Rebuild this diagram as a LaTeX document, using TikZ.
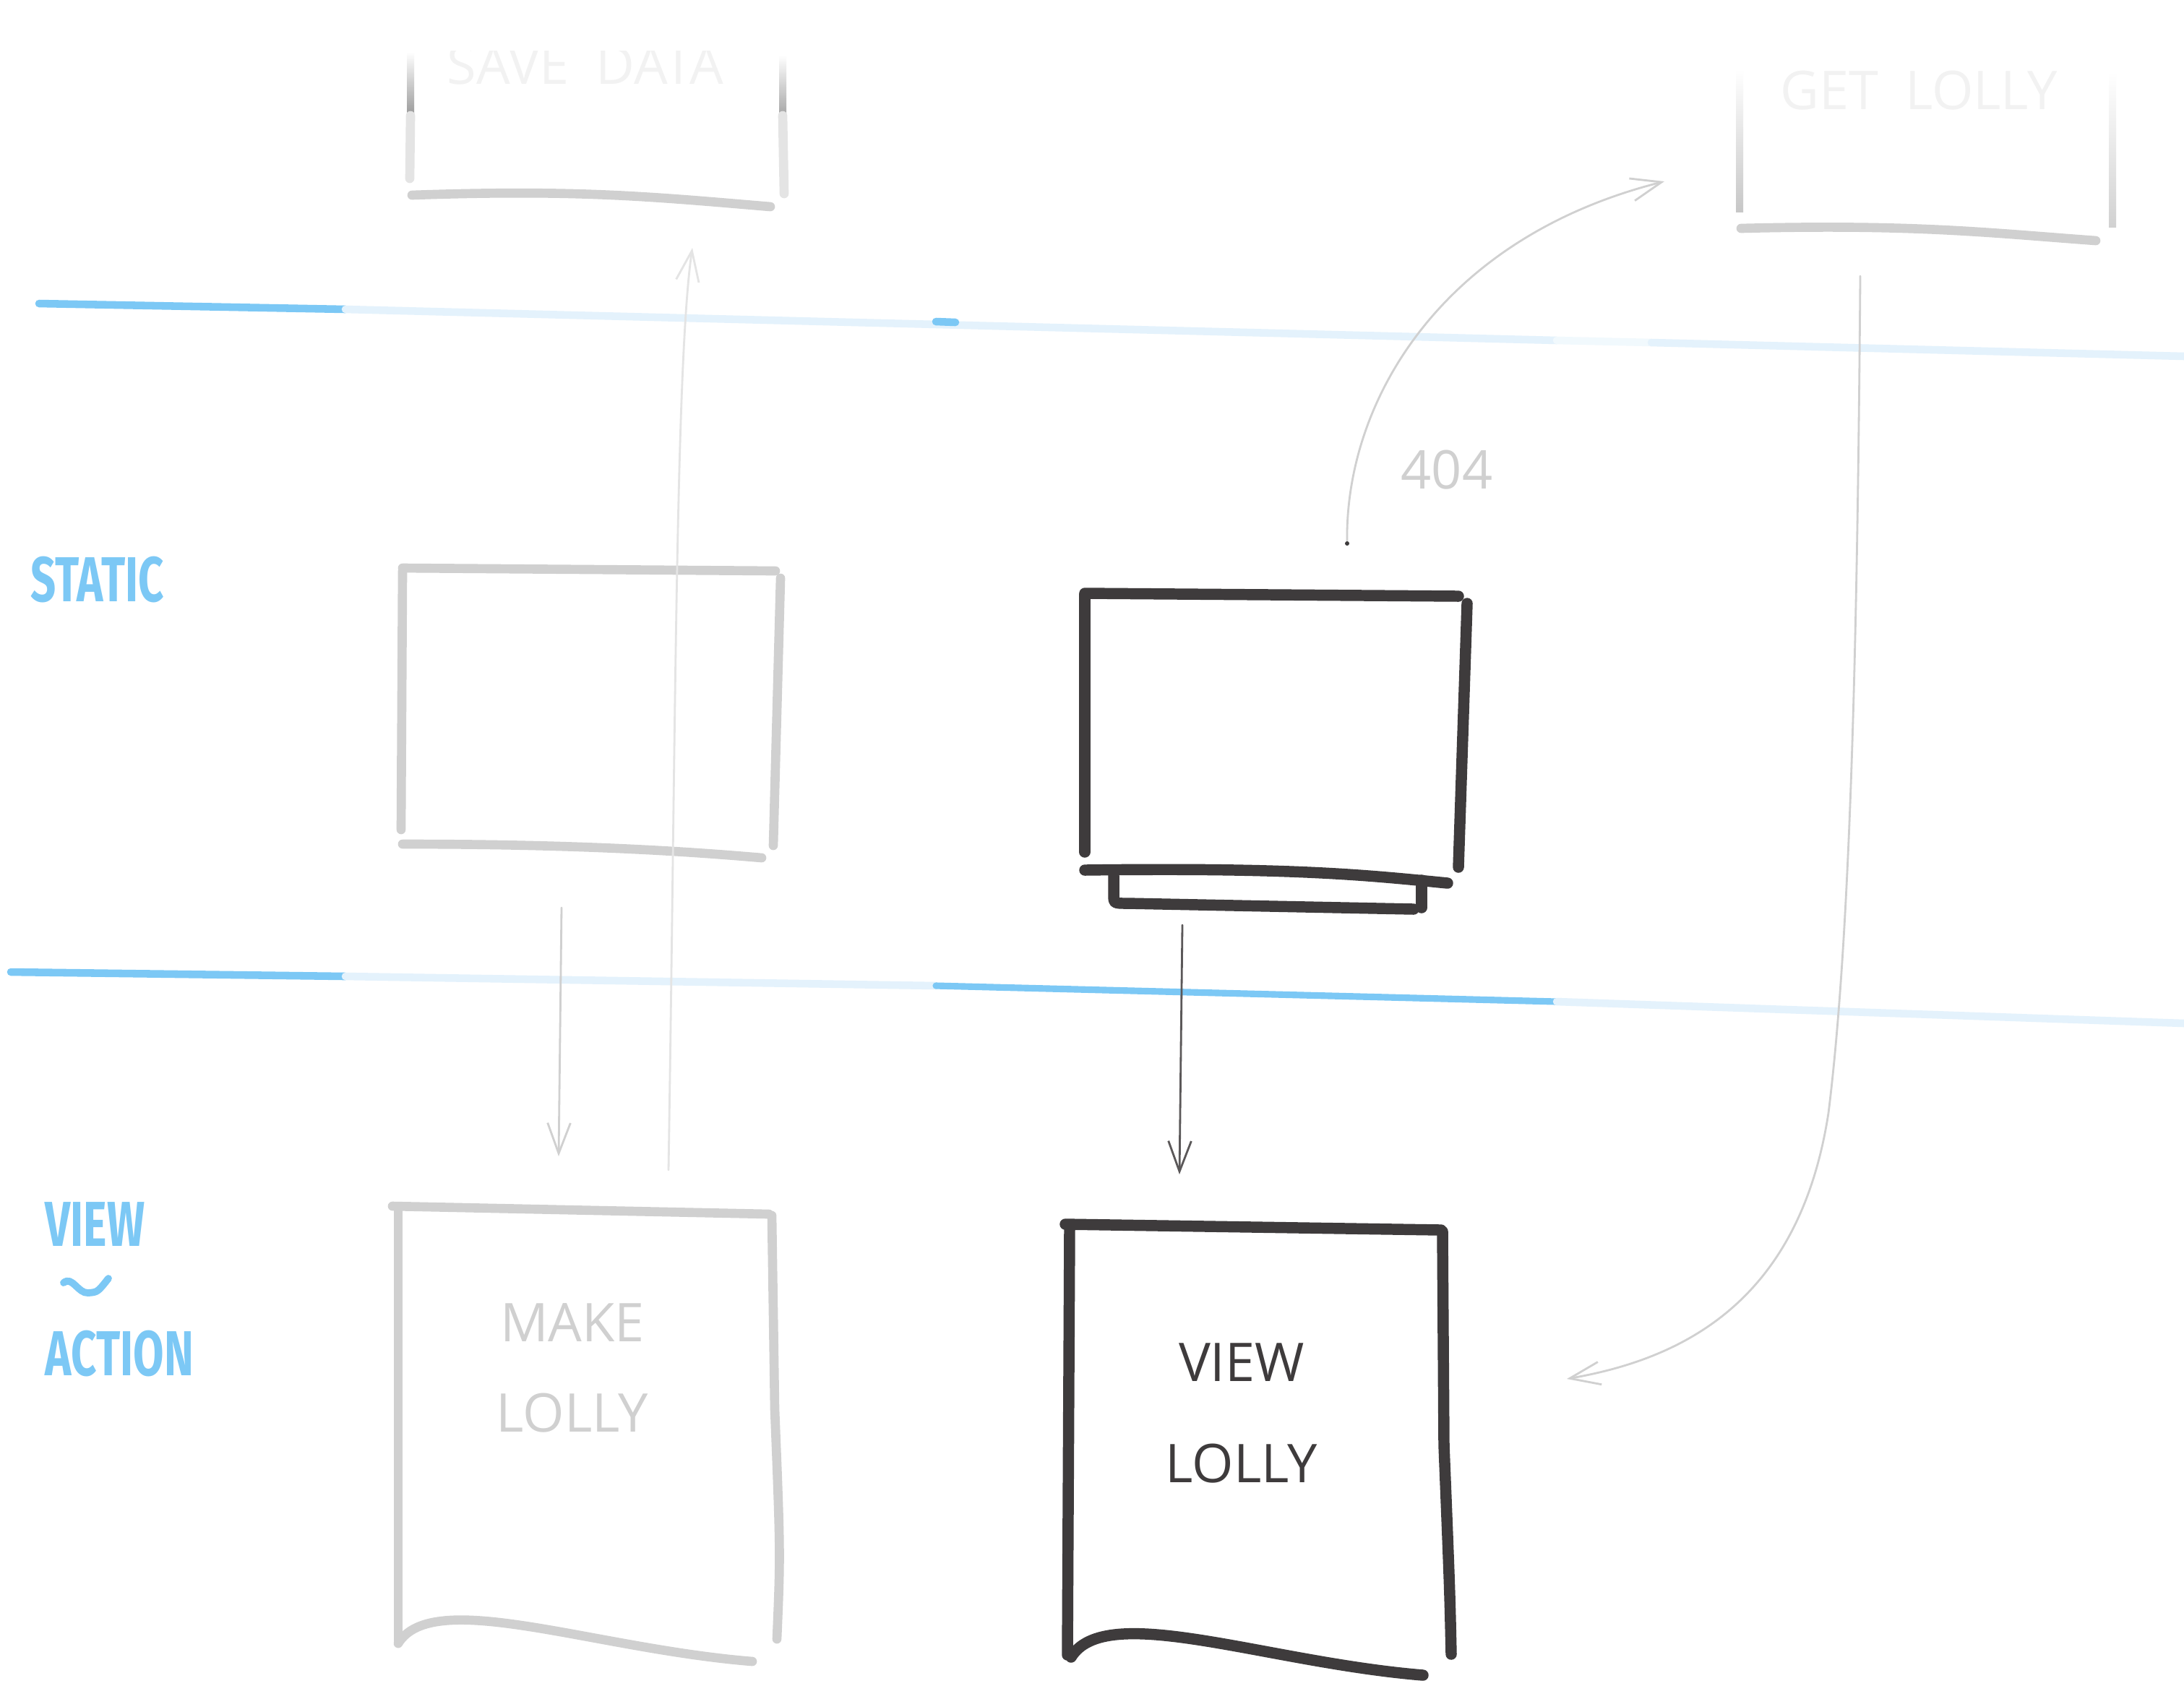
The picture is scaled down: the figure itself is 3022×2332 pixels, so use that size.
\documentclass[tikz,border=0pt]{standalone}
\usepackage{fontspec}
\setmainfont{Open Sans}
\newfontfamily\markerfont{Fira Sans}
\usetikzlibrary{arrows.meta}
\definecolor{inkdark}{HTML}{3E3B3C}
\definecolor{inkgray}{HTML}{D0D0D0}
\definecolor{inkfaint}{HTML}{E4E4E4}
\definecolor{ghost}{HTML}{F2F2F2}
\definecolor{marker}{HTML}{7CC8F5}
\definecolor{markerfaint}{HTML}{E4F2FC}
\newcommand{\markerword}[1]{\scalebox{0.7}[1]{#1}}

\begin{document}
\begin{tikzpicture}[x=0.01cm,y=-0.01cm,
  boxline/.style={line width=3.6pt,line cap=round,line join=round},
  darkbox/.style={boxline,draw=inkdark,line width=4.4pt},
  greybox/.style={boxline,draw=inkgray},
  arrowline/.style={line width=0.8pt,line cap=round,-{Straight Barb[length=12pt,width=9pt]}},
  lane/.style={line width=3pt,line cap=round},
  handtext/.style={font=\fontsize{21}{25}\selectfont},
  markertext/.style={font=\markerfont\bfseries\fontsize{25}{30}\selectfont,text=marker,inner sep=0pt,text depth=0pt}]
\fill[white] (0,0) rectangle (3022,2332);
\useasboundingbox (0,0) rectangle (3022,2332);

\draw[lane,marker] (54,420) -- (478,428);
\draw[lane,markerfaint] (478,428) -- (2154,471);
\draw[lane,markerfaint!50] (2154,471) -- (2285,474);
\draw[lane,markerfaint] (2285,474) -- (3022,493);
\draw[lane,marker] (1295,445) -- (1322,446);
\draw[lane,marker] (15,1345) -- (478,1351);
\draw[lane,markerfaint] (478,1351) -- (1295,1364);
\draw[lane,marker,line width=2.6pt] (1295,1364) -- (2154,1386);
\draw[lane,markerfaint] (2154,1386) -- (3022,1416);

\node[markertext,anchor=west] (static) at (42,801) {\markerword{STATIC}};
\node[markertext,anchor=west] (view) at (62,1694) {\markerword{VIEW}};
\draw[lane,marker,line width=2.8pt] (88,1775) .. controls (100,1765) and (108,1790) .. (122,1789) .. controls (135,1788) .. (150,1769);
\node[markertext,anchor=west] (action) at (62,1872) {\markerword{ACTION}};

\begin{scope}
\clip (0,70) rectangle (3022,400);
\node[handtext,text=ghost] (savedata) at (810,90) {SAVE\enspace DATA};
\end{scope}
\shade[top color=white,bottom color=black!40] (563,72) rectangle (573,160);
\draw[greybox,draw=inkfaint] (568,160) -- (567,247);
\shade[top color=white,bottom color=black!35] (1078,76) rectangle (1088,160);
\draw[greybox,draw=inkfaint] (1083,160) -- (1085,268);
\draw[greybox] (570,270) .. controls (800,262) and (900,272) .. (1066,286);

\node[handtext,text=ghost] (getlolly) at (2655,125) {GET\enspace LOLLY};
\shade[top color=white,bottom color=black!22] (2402,96) rectangle (2412,293);
\shade[top color=white,bottom color=black!18] (2918,100) rectangle (2928,314);
\draw[greybox] (2409,316) .. controls (2650,310) and (2750,322) .. (2900,333);

\draw[greybox] (557,790) -- (555,1148);
\draw[greybox] (557,786) -- (1073,790);
\draw[greybox] (1080,800) -- (1070,1170);
\draw[greybox] (557,1168) .. controls (800,1168) and (950,1178) .. (1054,1187);

\draw[darkbox] (1501,823) -- (1501,1179);
\draw[darkbox] (1501,821) -- (2018,825);
\draw[darkbox] (2030,835) -- (2018,1200);
\draw[darkbox] (1501,1204) .. controls (1800,1200) and (1900,1212) .. (2003,1222);
\draw[darkbox] (1541,1212) -- (1541,1238) .. controls (1541,1250) .. (1560,1250) -- (1956,1258);
\draw[darkbox] (1967,1218) -- (1967,1256);

\draw[greybox] (551,1672) -- (551,2270);
\draw[greybox] (543,1669) -- (1064,1680);
\draw[greybox] (1068,1682) -- (1072,1950) .. controls (1080,2150) .. (1075,2268);
\draw[greybox] (551,2274) .. controls (599,2196) and (819,2281) .. (1041,2299);
\node[handtext,text=inkgray] (make) at (792,1830) {MAKE};
\node[handtext,text=inkgray] (lollymake) at (792,1955) {LOLLY};

\draw[darkbox] (1480,1700) -- (1477,2290);
\draw[darkbox] (1474,1694) -- (1994,1702);
\draw[darkbox] (1996,1704) -- (1998,2000) .. controls (2006,2200) .. (2008,2289);
\draw[darkbox] (1482,2293) .. controls (1530,2215) and (1750,2300) .. (1969,2318);
\node[handtext,text=inkdark] (viewtext) at (1718,1885) {VIEW};
\node[handtext,text=inkdark] (lollyview) at (1718,2025) {LOLLY};

\node[handtext,text=inkgray] (notfoundtext) at (2002,650) {404};

\coordinate (staticout) at (777,1256);
\coordinate (makein) at (773,1600);
\coordinate (makeout) at (925,1619);
\coordinate (savein) at (958,343);
\coordinate (pageout) at (1636,1280);
\coordinate (viewin) at (1632,1625);
\coordinate (notfound) at (1864,752);
\coordinate (getin) at (2303,251);
\coordinate (getout) at (2574,382);
\coordinate (viewback) at (2168,1908);

\draw[arrowline,inkgray] (staticout) -- (makein);
\draw[arrowline,inkfaint] (makeout) .. controls (935,1000) and (935,500) .. (savein);
\draw[arrowline,inkdark!85] (pageout) -- (viewin);
\draw[arrowline,inkgray] (notfound) .. controls (1860,560) and (1990,330) .. (getin);
\fill[inkdark] (notfound) circle (3);
\draw[arrowline,inkgray] (getout) .. controls (2570,900) and (2560,1300) .. (2530,1540) .. controls (2490,1800) and (2330,1880) .. (viewback);
\end{tikzpicture}
\end{document}
